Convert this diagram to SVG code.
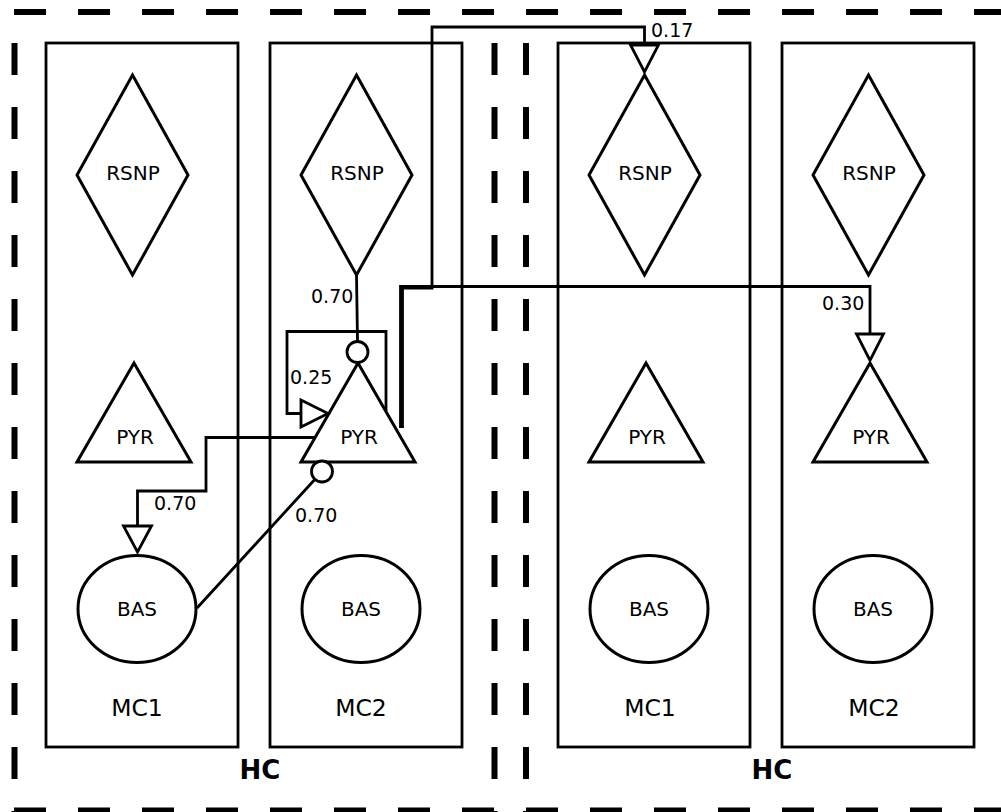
<svg xmlns="http://www.w3.org/2000/svg" width="1001" height="812" viewBox="0 0 1001 812">
<style>
.border{fill:none;stroke:#000;stroke-width:6;stroke-dasharray:32 32}
.mc{fill:none;stroke:#000;stroke-width:2.8}
.shape{fill:#fff;stroke:#000;stroke-width:3}
.lbl{font-family:"DejaVu Sans",sans-serif;font-size:19px;fill:#000}
.node{font-family:"DejaVu Sans",sans-serif;font-size:20px;fill:#000;text-anchor:middle}
.mct{font-family:"DejaVu Sans",sans-serif;font-size:23.5px;fill:#000;text-anchor:middle}
.hc{font-family:"DejaVu Sans",sans-serif;font-size:26px;font-weight:bold;fill:#000;text-anchor:middle}
.wire{fill:none;stroke:#000;stroke-width:2.8}
.head{fill:#fff;stroke:#000;stroke-width:2.8;stroke-linejoin:miter}
</style>
<g id="borders">
<line class="border" x1="14" y1="12" x2="1010" y2="12"/>
<line class="border" x1="14" y1="810.5" x2="1010" y2="810.5"/>
<line class="border" x1="14.5" y1="43" x2="14.5" y2="812"/>
<line class="border" x1="494.5" y1="43" x2="494.5" y2="812"/>
<line class="border" x1="526" y1="43" x2="526" y2="812"/>
</g>
<g id="hc-left"><text class="hc" x="260" y="779">HC</text></g>
<g id="hc-right"><text class="hc" x="772" y="779">HC</text></g>

<g id="mc1-left">
<rect class="mc" x="46" y="43" width="192" height="704"/>
<text class="mct" x="137" y="716">MC1</text>
</g>
<g id="mc2-left">
<rect class="mc" x="270" y="43" width="192" height="704"/>
<text class="mct" x="361" y="716">MC2</text>
</g>
<g id="mc1-right">
<rect class="mc" x="558" y="43" width="192" height="704"/>
<text class="mct" x="650" y="716">MC1</text>
</g>
<g id="mc2-right">
<rect class="mc" x="782" y="43" width="192" height="704"/>
<text class="mct" x="874" y="716">MC2</text>
</g>

<g id="rsnp-1">
<polygon class="shape" points="132.5,75 188,175 132.5,275 77,175"/>
<text class="node" x="133" y="180">RSNP</text>
</g>
<g id="rsnp-2">
<polygon class="shape" points="356.5,75 412,175 356.5,275 301,175"/>
<text class="node" x="357" y="180">RSNP</text>
</g>
<g id="rsnp-3">
<polygon class="shape" points="644.5,75 700,175 644.5,275 589,175"/>
<text class="node" x="645" y="180">RSNP</text>
</g>
<g id="rsnp-4">
<polygon class="shape" points="868.5,75 924,175 868.5,275 813,175"/>
<text class="node" x="869" y="180">RSNP</text>
</g>

<g id="pyr-1">
<polygon class="shape" points="134,363 191,462 77,462"/>
<text class="node" x="135" y="444">PYR</text>
</g>
<g id="pyr-2">
<polygon class="shape" points="358,363 415,462 301,462"/>
<text class="node" x="359" y="444">PYR</text>
</g>
<g id="pyr-3">
<polygon class="shape" points="646,363 703,462 589,462"/>
<text class="node" x="647" y="444">PYR</text>
</g>
<g id="pyr-4">
<polygon class="shape" points="870,363 927,462 813,462"/>
<text class="node" x="871" y="444">PYR</text>
</g>

<g id="bas-1">
<ellipse class="shape" cx="137" cy="609" rx="59" ry="53.5"/>
<text class="node" x="137" y="616">BAS</text>
</g>
<g id="bas-2">
<ellipse class="shape" cx="361" cy="609" rx="59" ry="53.5"/>
<text class="node" x="361" y="616">BAS</text>
</g>
<g id="bas-3">
<ellipse class="shape" cx="649" cy="609" rx="59" ry="53.5"/>
<text class="node" x="649" y="616">BAS</text>
</g>
<g id="bas-4">
<ellipse class="shape" cx="873" cy="609" rx="59" ry="53.5"/>
<text class="node" x="873" y="616">BAS</text>
</g>

<g id="connectors">
<line class="wire" x1="356.5" y1="275" x2="357.5" y2="341"/>
<circle class="head" cx="357.5" cy="352" r="10.5"/>
<text class="lbl" x="311" y="303">0.70</text>
<polyline class="wire" points="386,411 386,331.5 287,331.5 287,413.5 301,413.5"/>
<polygon class="head" points="301,400 301,427 328,413.5"/>
<text class="lbl" x="290" y="384">0.25</text>
<polyline class="wire" points="316,437.5 206,437.5 206,491 137.5,491 137.5,526"/>
<polygon class="head" points="123.5,526 151.5,526 137.5,552"/>
<text class="lbl" x="154" y="510">0.70</text>
<line class="wire" x1="197" y1="608" x2="315" y2="479.3"/>
<circle class="head" cx="322" cy="471.5" r="10.5"/>
<text class="lbl" x="295" y="522">0.70</text>
<polyline class="wire" points="400.5,428 400.5,286.5 870,286.5 870,334"/>
<polygon class="head" points="856.5,334 883.5,334 870,360.5"/>
<text class="lbl" x="822" y="310">0.30</text>
<polyline class="wire" points="402.5,428 402.5,288 432,288 432,27 644.5,27 644.5,45"/>
<polygon class="head" points="630.5,45 658.5,45 644.5,72"/>
<text class="lbl" x="651" y="37">0.17</text>
</g>
</svg>
